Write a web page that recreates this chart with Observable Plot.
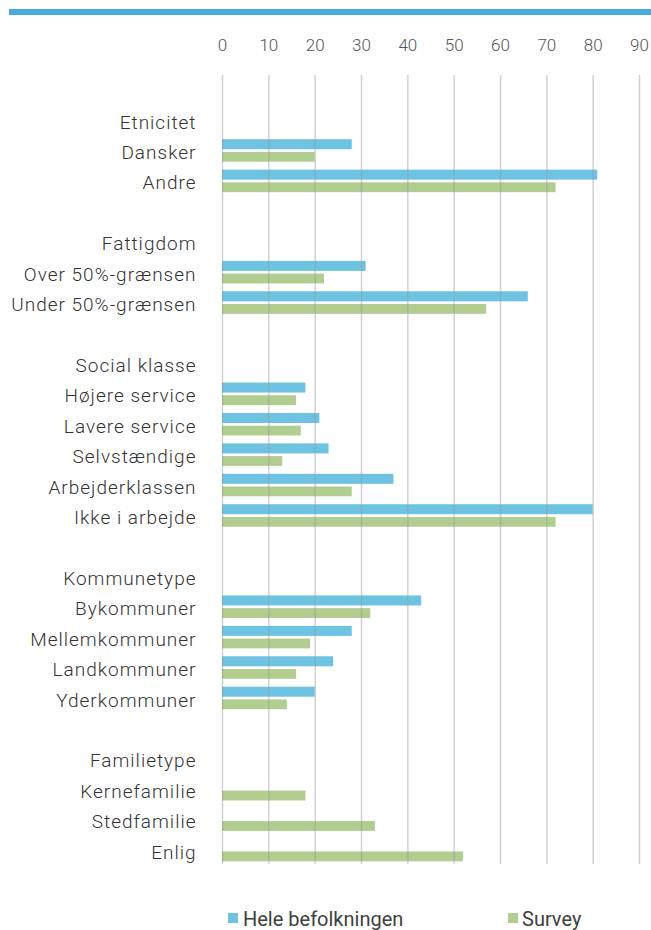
<!DOCTYPE html>
<html>
<head>
<meta charset="utf-8">
<script src="https://cdn.jsdelivr.net/npm/d3@7"></script>
<script src="https://cdn.jsdelivr.net/npm/@observablehq/plot@0.6"></script>
<style>
  body { margin: 0; background: #fff; }
  #wrap { position: relative; width: 651px; height: 930px; overflow: hidden; background: #fff; }
  #chart { position: absolute; left: 0; top: 0; }
  #topbar { position: absolute; left: 9px; top: 9px; width: 642px; height: 6px; background: #4aabd9; }
  .sw { position: absolute; width: 10px; height: 10px; }
  .lt { position: absolute; font-family: Roboto, sans-serif; font-size: 20px; line-height: 20px; color: #404040; white-space: nowrap; }
  #chart g[aria-label="y-axis tick label"] text { letter-spacing: 1px; }
</style>
</head>
<body>
<div id="wrap">
  <div id="chart"></div>
  <div id="topbar"></div>
  <div class="sw" style="left:228px; top:913px; background:#6ec3e3;"></div>
  <div class="lt" id="l1" style="left:243px; top:909px;"></div>
  <div class="sw" style="left:508px; top:913px; background:#b1cd8f;"></div>
  <div class="lt" id="l2" style="left:522px; top:909px;"></div>
</div>
<script>
const rows = [
  "Etnicitet", "Dansker", "Andre", "",
  "Fattigdom", "Over 50%-grænsen", "Under 50%-grænsen", " ",
  "Social klasse", "Højere service", "Lavere service", "Selvstændige", "Arbejderklassen", "Ikke i arbejde", "  ",
  "Kommunetype", "Bykommuner", "Mellemkommuner", "Landkommuner", "Yderkommuner", "   ",
  "Familietype", "Kernefamilie", "Stedfamilie", "Enlig"
];
const hele = [
  null, 28, 81, null,
  null, 31, 66, null,
  null, 18, 21, 23, 37, 80, null,
  null, 43, 28, 24, 20, null,
  null, null, null, null
];
const survey = [
  null, 20, 72, null,
  null, 22, 57, null,
  null, 16, 17, 13, 28, 72, null,
  null, 32, 19, 16, 14, null,
  null, 18, 33, 52
];
const seriesNames = ["Hele befolkningen", "Survey"];
const xTicks = [0, 10, 20, 30, 40, 50, 60, 70, 80, 90];

document.getElementById("l1").textContent = seriesNames[0];
document.getElementById("l2").textContent = seriesNames[1];

const heleData = rows.map((r, i) => ({row: r, value: hele[i]})).filter(d => d.value != null);
const surveyData = rows.map((r, i) => ({row: r, value: survey[i]})).filter(d => d.value != null);

const chart = Plot.plot({
  width: 651,
  height: 895,
  marginLeft: 222,
  marginRight: 12,
  marginTop: 75,
  marginBottom: 31,
  style: {fontFamily: "Roboto, sans-serif", background: "transparent"},
  x: {domain: [0, 90], axis: null, label: null},
  y: {domain: rows, range: [106.8, 867.2], padding: 0, round: false, axis: null, label: null},
  marks: [
    Plot.barX(heleData, {x: "value", y: "row", fill: "#6ec3e3", insetTop: 2, insetBottom: 18.4}),
    Plot.barX(surveyData, {x: "value", y: "row", fill: "#b1cd8f", insetTop: 14.7, insetBottom: 5.9}),
    Plot.gridX(xTicks, {stroke: "#999", strokeOpacity: 0.45, strokeWidth: 1.5}),
    Plot.axisX(xTicks, {anchor: "top", tickSize: 0, tickPadding: 25, fontSize: 17, fontWeight: 300, fill: "#555", label: null}),
    Plot.axisY({tickSize: 0, tickPadding: 26, fontSize: 19, fontWeight: 300, fill: "#333", label: null, tickFormat: d => d.trim()})
  ]
});
document.getElementById("chart").appendChild(chart);
</script>
</body>
</html>
